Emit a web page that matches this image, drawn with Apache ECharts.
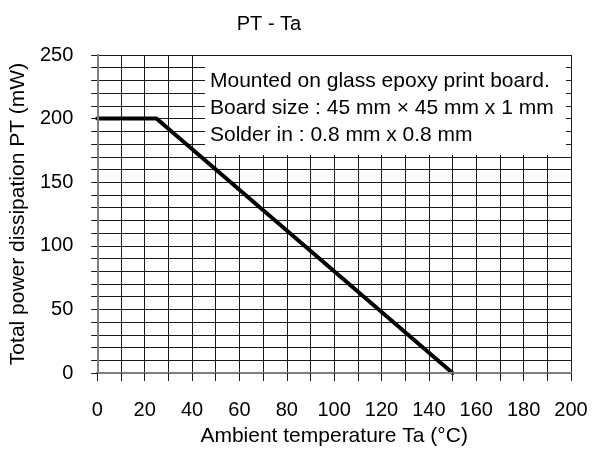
<!DOCTYPE html>
<html>
<head>
<meta charset="utf-8">
<script src="https://cdn.jsdelivr.net/npm/echarts@6/dist/echarts.min.js"></script>
<style>
html,body{margin:0;padding:0;background:#fff;}
#main{width:594px;height:456px;}
</style>
</head>
<body>
<div id="main"></div>
<script>
// Data
const tempC = [0, 25, 150];
const powerMW = [200, 200, 0];
const xLabelStep = 20;
const yLabelStep = 50;
const chartTitle = 'PT - Ta';
const xName = 'Ambient temperature Ta (°C)';
const yName = 'Total power dissipation PT (mW)';
const noteLines = [
  'Mounted on glass epoxy print board.',
  'Board size : 45 mm × 45 mm x 1 mm',
  'Solder in : 0.8 mm x 0.8 mm'
];

const FONT = "'Liberation Sans', Arial, sans-serif";
const chart = echarts.init(document.getElementById('main'), null, {renderer: 'canvas'});

const frameColor = '#808080';
const gridColor = '#1a1a1a';

const baseX = {
  type: 'value', min: 0, max: 200, interval: 10
};
const baseY = {
  type: 'value', min: 0, max: 250, interval: 10
};

const option = {
  animation: false,
  backgroundColor: '#fff',
  title: {
    text: chartTitle,
    left: 264,
    top: 9,
    textAlign: 'center',
    textStyle: {fontFamily: FONT, fontSize: 20, fontWeight: 'normal', color: '#000'}
  },
  grid: {left: 97, right: 23, top: 55, bottom: 83, containLabel: false},
  xAxis: [
    Object.assign({}, baseX, {
      position: 'bottom', z: 0,
      name: xName, nameLocation: 'middle', nameGap: 53,
      nameTextStyle: {fontFamily: FONT, fontSize: 21, color: '#000'},
      axisLine: {show: true, lineStyle: {color: frameColor, width: 2}},
      axisTick: {show: false},
      splitLine: {show: true, lineStyle: {color: gridColor, width: 1}},
      axisLabel: {
        fontFamily: FONT, fontSize: 20, color: '#000', margin: 27,
        formatter: v => (v % xLabelStep === 0 ? String(v) : '')
      }
    }),
    Object.assign({}, baseX, {
      position: 'top', z: 5,
      axisLine: {show: true, lineStyle: {color: frameColor, width: 2}},
      axisTick: {show: true, inside: true, length: 8, lineStyle: {color: gridColor, width: 1}},
      splitLine: {show: false},
      axisLabel: {show: false}
    })
  ],
  yAxis: [
    Object.assign({}, baseY, {
      position: 'left', z: 0,
      name: yName, nameLocation: 'middle', nameGap: 64,
      nameTextStyle: {fontFamily: FONT, fontSize: 21, color: '#000'},
      axisLine: {show: true, lineStyle: {color: frameColor, width: 2}},
      axisTick: {show: false},
      splitLine: {show: true, lineStyle: {color: gridColor, width: 1}},
      axisLabel: {
        fontFamily: FONT, fontSize: 20, color: '#000', margin: 24,
        formatter: v => (v % yLabelStep === 0 ? String(v) : '')
      }
    }),
    Object.assign({}, baseY, {
      position: 'right', z: 5,
      axisLine: {show: true, lineStyle: {color: frameColor, width: 2}},
      axisTick: {show: true, inside: true, length: 6, lineStyle: {color: gridColor, width: 1}},
      splitLine: {show: false},
      axisLabel: {show: false}
    })
  ],
  graphic: [
    {
      type: 'rect', z: 1,
      shape: {x: 205, y: 56, width: 361, height: 99},
      style: {fill: '#fff'}
    },
    {
      type: 'group', z: 6,
      children: noteLines.map((t, i) => ({
        type: 'text', z: 6,
        x: 210, y: 81 + i * 27,
        style: {text: t, fill: '#000', font: '21px ' + FONT, verticalAlign: 'middle', align: 'left'}
      }))
    }
  ],
  series: [{
    type: 'line',
    xAxisIndex: 0, yAxisIndex: 0,
    data: tempC.map((t, i) => [t, powerMW[i]]),
    showSymbol: false,
    z: 3,
    lineStyle: {color: '#000', width: 4, cap: 'round', join: 'round'}
  }]
};
chart.setOption(option);
</script>
</body>
</html>
